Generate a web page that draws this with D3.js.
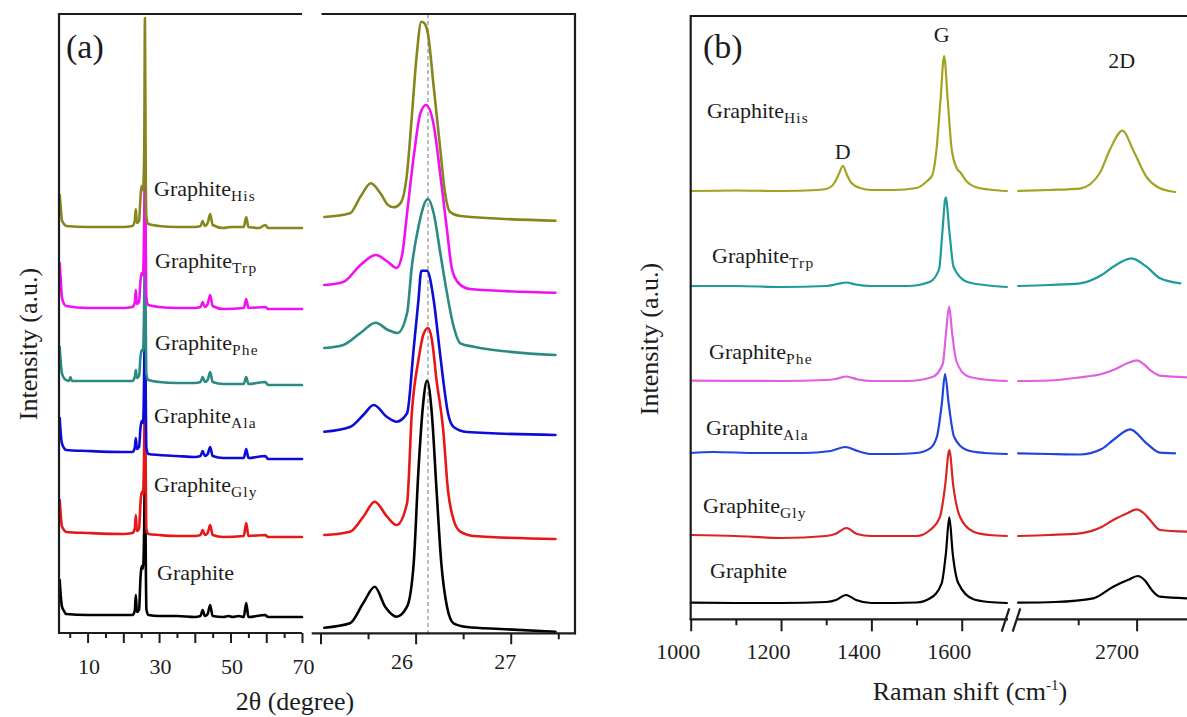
<!DOCTYPE html>
<html>
<head>
<meta charset="utf-8">
<script src="https://cdn.jsdelivr.net/npm/d3@7"></script>
<style>
  body { margin: 0; background: #fff; }
  svg { display: block; font-family: "Liberation Serif", "Times New Roman", serif; }
</style>
</head>
<body>
<svg id="chart" width="1187" height="717"></svg>
<script>
// Sample subscripts, bottom to top
const xrdSubs = ["", "Gly", "Ala", "Phe", "Trp", "His"];
const ramanSubs = ["", "Gly", "Ala", "Phe", "Trp", "His"];

// (a) XRD full range, [2theta, intensity (a.u., stacked)]
const xrdGraphite = [[2.2,53],[2.5,37],[2.8,27],[3.4,22],[4,19],[10,18],[20,18],[22.5,18],[23.2,22],[23.5,38],[23.8,21],[24.4,23],[24.8,55],[25.1,67],[25.5,64],[25.85,110],[26.05,180],[26.25,90],[26.45,24],[27,18],[30,17],[35,17],[40,16],[41.6,17],[42.2,23],[42.8,17],[43.6,19],[44.3,28],[45,17],[48,16],[49.5,17],[50.5,16],[52.3,17],[53.7,16],[54.4,30],[55,16],[59.7,18],[60.5,16],[70,16]];
const xrdGly = [[2.2,133],[2.5,117],[2.8,107],[3.4,103],[4,101],[10,100],[20,99],[22.5,100],[23.2,104],[23.5,118],[23.8,102],[24.4,104],[24.8,130],[25.1,141],[25.5,139],[25.85,190],[26.05,260],[26.25,170],[26.45,104],[27,99],[30,98],[35,97],[40,97],[41.6,98],[42.2,103],[42.8,98],[43.6,100],[44.3,108],[45,98],[48,96],[53.7,97],[54.4,110],[55,97],[59.7,98],[60.5,96],[70,96]];
const xrdAla = [[2.2,215],[2.5,199],[2.8,190],[3.4,185],[4,183],[10,182],[20,181],[22.5,181],[23.2,185],[23.5,195],[23.8,184],[24.4,186],[24.8,205],[25.1,212],[25.5,210],[25.85,265],[26.05,340],[26.25,250],[26.45,185],[27,179],[30,178],[35,177],[40,176],[41.6,177],[42.2,182],[42.8,177],[43.6,179],[44.3,186],[45,177],[48,175],[53.7,175],[54.4,184],[55,175],[59.7,177],[60.5,174],[70,174]];
const xrdPhe = [[2.2,286],[2.5,270],[2.8,260],[3.4,255],[4,253],[4.8,252],[5.2,256],[5.6,252],[10,252],[20,252],[22.5,252],[23.2,256],[23.5,263],[23.8,255],[24.4,257],[24.8,276],[25.1,283],[25.5,282],[25.85,335],[26.05,410],[26.25,320],[26.45,259],[27,253],[30,251],[35,250],[40,250],[41.6,251],[42.2,256],[42.8,251],[43.6,253],[44.3,261],[45,251],[48,249],[53.7,249],[54.4,256],[55,249],[59.7,251],[60.5,248],[70,248]];
const xrdTrp = [[2.2,370],[2.5,352],[2.8,336],[3.4,329],[4,327],[10,325],[20,325],[22.5,326],[23.2,330],[23.5,343],[23.8,329],[24.4,331],[24.8,352],[25.1,360],[25.5,358],[25.85,415],[26.05,490],[26.25,400],[26.45,335],[27,328],[30,326],[35,325],[40,325],[41.6,326],[42.2,331],[42.8,326],[43.6,329],[44.3,338],[45,327],[48,324],[53.7,325],[54.4,334],[55,325],[59.7,326],[60.5,324],[70,324]];
const xrdHis = [[2.2,438],[2.5,425],[2.8,413],[3.4,409],[4,407],[10,406],[20,406],[22.5,407],[23.2,412],[23.5,424],[23.8,410],[24.4,412],[24.8,435],[25.1,447],[25.5,443],[25.85,480],[26.05,615],[26.25,470],[26.45,416],[27,409],[30,407],[35,406],[40,406],[41.6,407],[42.2,412],[42.8,407],[43.6,410],[44.3,419],[45,408],[48,405],[50,406],[53.7,406],[54.4,416],[55,406],[58,405],[59.7,408],[60.5,405],[70,405]];

// (a) zoom on the (002) peak, [2theta, intensity]
const peakGraphite = [[25.04,6.3],[25.31,10.7],[25.45,31],[25.57,47.3],[25.68,27.3],[25.8,17.3],[25.91,27.3],[25.98,71],[26.03,164],[26.08,231],[26.12,253.3],[26.17,221],[26.22,144],[26.27,71],[26.33,27.3],[26.4,10.7],[26.54,7],[26.89,5],[27.47,2.3]];
const peakGly = [[25.04,99],[25.31,102.3],[25.45,117.3],[25.57,132.3],[25.7,117.3],[25.8,109],[25.91,130.7],[25.96,220.7],[26.03,274],[26.08,299],[26.13,306],[26.17,295],[26.22,254],[26.29,204],[26.34,144],[26.4,114],[26.47,102.3],[26.61,98],[27.47,95]];
const peakAla = [[25.04,202.3],[25.31,207],[25.45,219],[25.56,229],[25.7,217],[25.8,212.3],[25.91,220.7],[25.98,285.7],[26.03,334],[26.06,363.3],[26.12,363.3],[26.19,334],[26.25,286],[26.29,254],[26.34,221],[26.4,207],[26.54,202],[27.47,199]];
const peakPhe = [[25.04,286],[25.24,289],[25.42,301],[25.58,311.3],[25.71,304],[25.81,301],[25.91,320.7],[25.96,367.3],[26.03,407.3],[26.13,435],[26.19,420.7],[26.26,380.7],[26.33,340.7],[26.4,307.3],[26.47,290.7],[26.61,287.3],[27.47,279]];
const peakTrp = [[25.04,349],[25.24,352],[25.42,369],[25.58,379],[25.71,372],[25.8,366],[25.86,380],[25.91,420.7],[25.98,477.3],[26.05,520.7],[26.11,529],[26.19,509],[26.26,459],[26.33,404],[26.38,366],[26.45,351],[26.57,345],[27.47,341.3]];
const peakHis = [[25.04,417],[25.31,420.7],[25.42,437.3],[25.53,450.7],[25.63,440.7],[25.71,429],[25.77,426.7],[25.84,430.7],[25.91,460.7],[25.96,517.3],[26.01,577.3],[26.06,612.3],[26.09,611],[26.13,600],[26.19,547.3],[26.26,484],[26.31,440.7],[26.36,422.3],[26.47,418],[27.47,413.3]];
const peakRef = 26.13;

// (b) Raman, low range (D, G) and high range (2D), [shift, intensity]
const ramanGraphiteLow = [[1000,16.3],[1100,16],[1200,16],[1300,17],[1322,19],[1344,24],[1366,19],[1400,16],[1500,16.5],[1530,20.7],[1555.6,35.7],[1565,65.7],[1572.5,101.7],[1580,65.7],[1592.5,35.7],[1626,19.7],[1660,17],[1700,16]];
const ramanGraphiteHigh = [[2497,16.3],[2560,17],[2626,20.7],[2660,32.3],[2685,39],[2702,43],[2715,38],[2726,29],[2740,22.3],[2786,20.7]];
const ramanGlyLow = [[1000,84],[1100,83],[1200,81],[1300,83],[1320,85],[1345,91],[1368,85],[1400,83],[1500,83],[1530,89],[1552,102.3],[1563,132.3],[1572.5,169],[1581.5,132.3],[1596,102.3],[1626,87.3],[1660,84],[1700,83]];
const ramanGlyHigh = [[2497,83],[2550,84],[2603,85.7],[2640,92],[2660,99],[2685,106],[2700,109.7],[2712,106],[2723,99],[2740,89],[2786,87.3]];
const ramanAlaLow = [[1000,166],[1050,167],[1150,166],[1250,166],[1310,168],[1342,172],[1370,168],[1400,165],[1450,165],[1500,166],[1530,170.7],[1545,182.3],[1556,215.7],[1563,245],[1571,215.7],[1583,182.3],[1611,169],[1650,166],[1700,165]];
const ramanAlaHigh = [[2497,165.7],[2550,165],[2603,164.5],[2640,170],[2660,179],[2689,189.7],[2717,175.7],[2740,166.3],[2766,165.7]];
const ramanPheLow = [[1000,238.3],[1200,238],[1300,239],[1320,240],[1345,242.5],[1370,239.5],[1400,238],[1480,238],[1535,242],[1558,255],[1565,285],[1572,312.3],[1579,285],[1588,258],[1612,243],[1650,239.5],[1700,238]];
const ramanPheHigh = [[2497,238],[2550,238.5],[2603,241.7],[2640,245],[2660,249],[2685,256],[2700,258.6],[2712,255],[2723,249],[2740,243.3],[2786,241.7]];
const ramanTrpLow = [[1000,333],[1100,333],[1200,332],[1300,333],[1325,335],[1345,336.5],[1365,334.5],[1400,333],[1480,333],[1530,337.3],[1550,350],[1557,386],[1564.5,421.7],[1573,386],[1582,352],[1611,337.3],[1650,334],[1700,332]];
const ramanTrpHigh = [[2497,333],[2550,334],[2603,335.7],[2640,344],[2660,352.3],[2691,360.7],[2717,352.3],[2740,340.7],[2775,335.7]];
const ramanHisLow = [[1000,428],[1100,428.5],[1200,428],[1280,429],[1300,430],[1318,436],[1328,445],[1337,453],[1346,444],[1356,436],[1375,431],[1400,429],[1450,429],[1500,431],[1521,437],[1535,444],[1544,469],[1553,519],[1561,563],[1569,519],[1578,469],[1590,450],[1598,446],[1610,438],[1630,432],[1660,429.5],[1700,428]];
const ramanHisHigh = [[2497,428],[2550,429],[2603,430.4],[2637,446],[2654,469],[2676,488.3],[2694,469],[2717,442],[2740,430.7],[2766,427]];

// Axis ticks
const xrdMajor = [10, 20, 30, 40, 50, 60, 70];
const xrdMinor = [5, 15, 25, 35, 45, 55, 65];
const xrdLabels = [10, 30, 50, 70];
const peakMajor = [25, 26, 27];
const peakMinor = [25.5, 26.5, 27.5];
const peakLabels = [26, 27];
const ramanLowMajor = [1000, 1200, 1400, 1600];
const ramanLowMinor = [1100, 1300, 1500];
const ramanHighMajor = [2700];
const ramanHighMinor = [2600];

// Colours
const xrdColors = ["#000000", "#e51717", "#0c0cd6", "#2c8a84", "#f210f2", "#86861c"];
const ramanColors = ["#000000", "#d92424", "#2244dd", "#e060e0", "#1f9a9a", "#a3a322"];

const svg = d3.select('#chart');
svg.append('rect').attr('width', 1187).attr('height', 717).attr('fill', '#fff');
const ink = '#1c1c1c';
const serif = '"Liberation Serif", "Times New Roman", serif';

// Scales
const xA = d3.scaleLinear([2, 70], [59, 302]);
const yA = d3.scaleLinear([0, 619], [633, 14]);
const xI = d3.scaleLinear([25, 27.68], [320.5, 575.4]);
const yI = d3.scaleLinear([0, 620], [634, 14]);
const xB1 = d3.scaleLinear([1000, 1700], [690.7, 1006.9]);
const xB2 = d3.scaleLinear([2495, 2800], [1016.9, 1195]);
const yB = d3.scaleLinear([0, 603], [619, 16]);

function drawLine(data, x, y, color, width) {
    const line = d3.line()
        .x(d => x(d[0]))
        .y(d => y(d[1]))
        .curve(d3.curveMonotoneX);
    svg.append('path')
        .attr('d', line(data))
        .attr('fill', 'none')
        .attr('stroke', color)
        .attr('stroke-width', width)
        .attr('stroke-linejoin', 'round')
        .attr('stroke-linecap', 'round');
}

function frameLine(x1, y1, x2, y2) {
    svg.append('line')
        .attr('x1', x1).attr('y1', y1).attr('x2', x2).attr('y2', y2)
        .attr('stroke', ink).attr('stroke-width', 2.2);
}

// Bottom axis: long labelled major ticks in one group, short minor ticks in another
function bottomAxis(scale, y, majors, minors, labels, majorLen, minorLen, pad, dx) {
    const major = svg.append('g').attr('transform', `translate(0,${y})`)
        .call(d3.axisBottom(scale).tickValues(majors).tickSize(majorLen).tickPadding(pad)
            .tickFormat(d => labels.includes(d) ? d : ''));
    const minor = svg.append('g').attr('transform', `translate(0,${y})`)
        .call(d3.axisBottom(scale).tickValues(minors).tickSize(minorLen).tickFormat(''));
    [major, minor].forEach(g => {
        g.selectAll('.domain').remove();
        g.selectAll('line').attr('stroke', ink).attr('stroke-width', 2);
        g.attr('font-family', serif).attr('font-size', 22);
    });
    major.selectAll('text').attr('fill', ink).attr('dx', d => dx(d));
}

function sampleLabel(x, y, sub) {
    const t = svg.append('text')
        .attr('x', x).attr('y', y)
        .attr('font-size', 22).attr('fill', ink);
    t.append('tspan').text('Graphite');
    if (sub) {
        t.append('tspan').attr('dy', 5).attr('font-size', 15.5)
            .attr('letter-spacing', 1.2).text(sub);
    }
}

// ---------- Panel (a), full range ----------
const xrdSeries = [xrdGraphite, xrdGly, xrdAla, xrdPhe, xrdTrp, xrdHis];
xrdSeries.forEach((s, i) => drawLine(s, xA, yA, xrdColors[i], 2.6));

frameLine(59, 14, 302, 14);
frameLine(59, 13, 59, 634);
frameLine(58, 633, 302, 633);
bottomAxis(xA, 633, xrdMajor, xrdMinor, xrdLabels, 10, 5, 15, () => 1);

// ---------- Panel (a), (002) peak ----------
svg.append('line')
    .attr('x1', xI(peakRef)).attr('x2', xI(peakRef))
    .attr('y1', 14).attr('y2', 633)
    .attr('stroke', '#777').attr('stroke-width', 1)
    .attr('stroke-dasharray', '4,3');

const peakSeries = [peakGraphite, peakGly, peakAla, peakPhe, peakTrp, peakHis];
peakSeries.forEach((s, i) => drawLine(s, xI, yI, xrdColors[i], 2.6));

frameLine(321.5, 14, 575, 14);
frameLine(575, 13, 575, 634.3);
frameLine(311.7, 633.3, 576, 633.3);
bottomAxis(xI, 633.3, peakMajor, peakMinor, peakLabels, 11, 6, 9, d => d === 26 ? -14 : -6);

// ---------- Panel (b) ----------
const ramanLow = [ramanGraphiteLow, ramanGlyLow, ramanAlaLow, ramanPheLow, ramanTrpLow, ramanHisLow];
const ramanHigh = [ramanGraphiteHigh, ramanGlyHigh, ramanAlaHigh, ramanPheHigh, ramanTrpHigh, ramanHisHigh];
ramanLow.forEach((s, i) => drawLine(s, xB1, yB, ramanColors[i], 2.2));
ramanHigh.forEach((s, i) => drawLine(s, xB2, yB, ramanColors[i], 2.2));

frameLine(690.7, 16, 1187, 16);
frameLine(690.7, 15, 690.7, 620.3);
frameLine(689.7, 619.3, 1008, 619.3);
frameLine(1016.7, 619.3, 1187, 619.3);
frameLine(1001.7, 631.7, 1009.3, 608.3);
frameLine(1012.7, 631.7, 1020.3, 608.3);
bottomAxis(xB1, 619.3, ramanLowMajor, ramanLowMinor, ramanLowMajor, 12, 6, 12, () => -13);
bottomAxis(xB2, 619.3, ramanHighMajor, ramanHighMinor, ramanHighMajor, 12, 6, 12, () => -20);

// ---------- Text ----------
const xrdLabelPos = [[157, 580], [154, 492], [154, 423], [155, 350], [155, 268], [154, 196]];
xrdSubs.forEach((s, i) => sampleLabel(xrdLabelPos[i][0], xrdLabelPos[i][1], s));
const ramanLabelPos = [[710, 578], [703, 513], [706, 435], [709, 359], [712, 263], [707, 118]];
ramanSubs.forEach((s, i) => sampleLabel(ramanLabelPos[i][0], ramanLabelPos[i][1], s));

svg.append('text').attr('x', 66).attr('y', 58).attr('font-size', 34).attr('fill', ink).text('(a)');
svg.append('text').attr('x', 703).attr('y', 58).attr('font-size', 34).attr('fill', ink).text('(b)');

const peakNames = [['D', 842.7, 159], ['G', 941.7, 41.7], ['2D', 1121.7, 68]];
peakNames.forEach(p => {
    svg.append('text').attr('x', p[1]).attr('y', p[2]).attr('text-anchor', 'middle')
        .attr('font-size', 22).attr('fill', ink).text(p[0]);
});

svg.append('text')
    .attr('transform', 'translate(37,344) rotate(-90)')
    .attr('text-anchor', 'middle').attr('font-size', 26).attr('fill', ink)
    .text('Intensity (a.u.)');
svg.append('text')
    .attr('transform', 'translate(658,339) rotate(-90)')
    .attr('text-anchor', 'middle').attr('font-size', 26).attr('fill', ink)
    .text('Intensity (a.u.)');

svg.append('text').attr('x', 295).attr('y', 710).attr('text-anchor', 'middle')
    .attr('font-size', 26).attr('fill', ink).text('2θ (degree)');

const raman = svg.append('text').attr('x', 970).attr('y', 700).attr('text-anchor', 'middle')
    .attr('font-size', 26).attr('fill', ink);
raman.append('tspan').text('Raman shift (cm');
raman.append('tspan').attr('dy', -10).attr('font-size', 15).text('-1');
raman.append('tspan').attr('dy', 10).text(')');
</script>
</body>
</html>
